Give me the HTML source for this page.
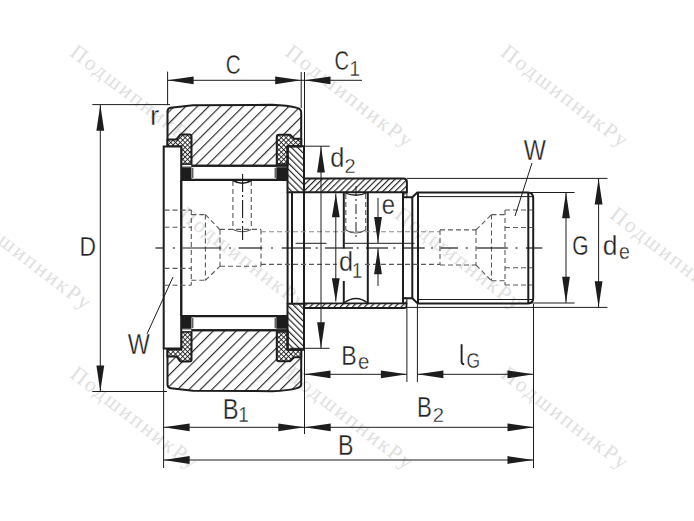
<!DOCTYPE html>
<html><head><meta charset="utf-8"><style>
html,body{margin:0;padding:0;background:#fff;width:694px;height:521px;overflow:hidden}
svg{display:block}
</style></head><body>
<svg width="694" height="521" viewBox="0 0 694 521">
<rect width="694" height="521" fill="#fff"/>
<defs>
<pattern id="h1" patternUnits="userSpaceOnUse" width="8.1" height="8.1" patternTransform="translate(5,0) rotate(45)"><line x1="0.6" y1="-1" x2="0.6" y2="9.1" stroke="#161616" stroke-width="1.05"/></pattern>
<pattern id="h2" patternUnits="userSpaceOnUse" width="4.4" height="4.4" patternTransform="rotate(-45)"><line x1="0.6" y1="-1" x2="0.6" y2="5.4" stroke="#161616" stroke-width="1.1"/></pattern>
<pattern id="h3" patternUnits="userSpaceOnUse" width="4.3" height="4.3" patternTransform="translate(1.8,0) rotate(45)"><line x1="0.6" y1="-1" x2="0.6" y2="5.3" stroke="#161616" stroke-width="1.1"/></pattern>
<pattern id="xh" patternUnits="userSpaceOnUse" width="3.4" height="3.4" patternTransform="rotate(45)"><rect width="3.4" height="3.4" fill="#fff"/><line x1="0.5" y1="-1" x2="0.5" y2="4.4" stroke="#161616" stroke-width="0.85"/><line x1="-1" y1="0.5" x2="4.4" y2="0.5" stroke="#161616" stroke-width="0.85"/></pattern>
</defs>
<text x="68.8" y="54.8" transform="rotate(37.5 68.8 54.8)" font-family="Liberation Serif" font-size="21.5" letter-spacing="2.1" fill="#e0e0e0">ПодшипникРу</text>
<text x="284.1" y="54.8" transform="rotate(37.5 284.1 54.8)" font-family="Liberation Serif" font-size="21.5" letter-spacing="2.1" fill="#e0e0e0">ПодшипникРу</text>
<text x="499.5" y="54.8" transform="rotate(37.5 499.5 54.8)" font-family="Liberation Serif" font-size="21.5" letter-spacing="2.1" fill="#e0e0e0">ПодшипникРу</text>
<text x="-37.3" y="217.0" transform="rotate(37.5 -37.3 217.0)" font-family="Liberation Serif" font-size="21.5" letter-spacing="2.1" fill="#e0e0e0">ПодшипникРу</text>
<text x="178.0" y="217.0" transform="rotate(37.5 178.0 217.0)" font-family="Liberation Serif" font-size="21.5" letter-spacing="2.1" fill="#e0e0e0">ПодшипникРу</text>
<text x="393.4" y="217.0" transform="rotate(37.5 393.4 217.0)" font-family="Liberation Serif" font-size="21.5" letter-spacing="2.1" fill="#e0e0e0">ПодшипникРу</text>
<text x="608.7" y="217.0" transform="rotate(37.5 608.7 217.0)" font-family="Liberation Serif" font-size="21.5" letter-spacing="2.1" fill="#e0e0e0">ПодшипникРу</text>
<text x="69.0" y="376.6" transform="rotate(37.5 69.0 376.6)" font-family="Liberation Serif" font-size="21.5" letter-spacing="2.1" fill="#e0e0e0">ПодшипникРу</text>
<text x="284.4" y="376.6" transform="rotate(37.5 284.4 376.6)" font-family="Liberation Serif" font-size="21.5" letter-spacing="2.1" fill="#e0e0e0">ПодшипникРу</text>
<text x="499.7" y="376.6" transform="rotate(37.5 499.7 376.6)" font-family="Liberation Serif" font-size="21.5" letter-spacing="2.1" fill="#e0e0e0">ПодшипникРу</text>
<path d="M167.5,146.5 L167.5,111.5 Q167.5,108.2 170.8,107.8 L193,105.2 L272,104.8 Q288,105.3 297.2,107.9 Q301.2,108.8 301.2,112.5 L301.2,146.3 L287.5,146.3 L287.5,165.8 L181.3,165.8 L181.3,146.5 Z" fill="url(#h1)" stroke="#1d1d1d" stroke-width="2" stroke-linejoin="round" />
<path d="M167.5,139.6 L176.5,139.6 L180.3,134.6 L189.3,134.6 Q191.5,134.6 191.5,136.8 L191.5,164.2 L181.3,164.2 L181.3,146.5 L167.5,146.5 Z" fill="url(#xh)" stroke="#1d1d1d" stroke-width="2" stroke-linejoin="round" />
<path d="M276.8,164.2 L276.8,136.9 Q276.8,134.7 279,134.7 L290,134.7 L294.3,138.7 L301.2,138.7 L301.2,146.3 L287.5,146.3 L287.5,164.2 Z" fill="url(#xh)" stroke="#1d1d1d" stroke-width="2" stroke-linejoin="round" />
<rect x="181.3" y="164.9" width="10.2" height="1.6" fill="#fff"/>
<rect x="276.8" y="164.9" width="10.7" height="1.6" fill="#fff"/>
<rect x="180.5" y="167.2" width="11" height="11.8" fill="#1d1d1d"/>
<rect x="276.3" y="167.2" width="11.7" height="11.8" fill="#1d1d1d"/>
<line x1="191.5" y1="165.8" x2="287.5" y2="165.8" stroke="#1d1d1d" stroke-width="2" />
<line x1="181.3" y1="179.8" x2="287.5" y2="179.8" stroke="#1d1d1d" stroke-width="2" />
<line x1="192.8" y1="167.8" x2="192.8" y2="178" stroke="#1d1d1d" stroke-width="1" />
<line x1="275.2" y1="167.8" x2="275.2" y2="178" stroke="#1d1d1d" stroke-width="1" />
<path d="M287.5,146.3 L304,146.3 L304,192.3 L287.5,192.3 Z" fill="url(#h2)" stroke="#1d1d1d" stroke-width="2" stroke-linejoin="round" />
<path d="M167.5,349.5 L167.5,384.5 Q167.5,387.8 170.8,388.2 L193,390.8 L272,391.2 Q288,390.7 297.2,388.1 Q301.2,387.2 301.2,383.5 L301.2,349.7 L287.5,349.7 L287.5,330.2 L181.3,330.2 L181.3,349.5 Z" fill="url(#h1)" stroke="#1d1d1d" stroke-width="2" stroke-linejoin="round" />
<path d="M167.5,356.4 L176.5,356.4 L180.3,361.4 L189.3,361.4 Q191.5,361.4 191.5,359.2 L191.5,331.8 L181.3,331.8 L181.3,349.5 L167.5,349.5 Z" fill="url(#xh)" stroke="#1d1d1d" stroke-width="2" stroke-linejoin="round" />
<path d="M276.8,331.8 L276.8,359.1 Q276.8,361.3 279,361.3 L290,361.3 L294.3,357.3 L301.2,357.3 L301.2,349.7 L287.5,349.7 L287.5,331.8 Z" fill="url(#xh)" stroke="#1d1d1d" stroke-width="2" stroke-linejoin="round" />
<rect x="181.3" y="329.5" width="10.2" height="1.6" fill="#fff"/>
<rect x="276.8" y="329.5" width="10.7" height="1.6" fill="#fff"/>
<rect x="180.5" y="317.0" width="11" height="11.8" fill="#1d1d1d"/>
<rect x="276.3" y="317.0" width="11.7" height="11.8" fill="#1d1d1d"/>
<line x1="191.5" y1="330.2" x2="287.5" y2="330.2" stroke="#1d1d1d" stroke-width="2" />
<line x1="181.3" y1="316.2" x2="287.5" y2="316.2" stroke="#1d1d1d" stroke-width="2" />
<line x1="192.8" y1="328.2" x2="192.8" y2="318.0" stroke="#1d1d1d" stroke-width="1" />
<line x1="275.2" y1="328.2" x2="275.2" y2="318.0" stroke="#1d1d1d" stroke-width="1" />
<path d="M287.5,349.7 L304,349.7 L304,303.7 L287.5,303.7 Z" fill="url(#h2)" stroke="#1d1d1d" stroke-width="2" stroke-linejoin="round" />
<rect x="163.7" y="146.5" width="17.5" height="202" fill="#fff" stroke="#1d1d1d" stroke-width="2"/>
<line x1="181.3" y1="180" x2="181.3" y2="316" stroke="#1d1d1d" stroke-width="2" />
<line x1="181.3" y1="180" x2="287.5" y2="180" stroke="#1d1d1d" stroke-width="2" />
<line x1="181.3" y1="316" x2="287.5" y2="316" stroke="#1d1d1d" stroke-width="2" />
<line x1="287.6" y1="192" x2="287.6" y2="304" stroke="#1d1d1d" stroke-width="2" />
<line x1="292" y1="192" x2="292" y2="304" stroke="#1d1d1d" stroke-width="2" />
<line x1="304" y1="192" x2="304" y2="304" stroke="#1d1d1d" stroke-width="2" />
<line x1="304" y1="146" x2="304" y2="350" stroke="#1d1d1d" stroke-width="2" />
<path d="M304,178.5 L403.5,178.5 Q406.9,178.5 406.9,182 L406.9,192.3 L304,192.3 Z" fill="url(#h3)" stroke="#1d1d1d" stroke-width="2" stroke-linejoin="round" />
<path d="M304,303.4 L406.5,303.4 L406.5,306 Q406.5,308 404,308 L304,308 Z" fill="url(#h3)" stroke="#1d1d1d" stroke-width="1.8" stroke-linejoin="round" />
<rect x="403.5" y="192.3" width="3.4" height="5" fill="url(#h3)" stroke="#1d1d1d" stroke-width="1"/>
<rect x="403.5" y="298.2" width="3.4" height="5" fill="url(#h3)" stroke="#1d1d1d" stroke-width="1"/>
<line x1="403" y1="192.3" x2="403" y2="303.4" stroke="#1d1d1d" stroke-width="2" />
<line x1="343.8" y1="192.3" x2="343.8" y2="248.5" stroke="#1d1d1d" stroke-width="2" />
<line x1="343.8" y1="281" x2="343.8" y2="303.4" stroke="#1d1d1d" stroke-width="2" />
<line x1="367.8" y1="192.3" x2="367.8" y2="303.4" stroke="#1d1d1d" stroke-width="2" />
<path d="M344,192.5 Q356,198 367.6,192.5" fill="none" stroke="#1d1d1d" stroke-width="1.3" stroke-linejoin="round" />
<path d="M344,303 Q356,294 367.6,303" fill="none" stroke="#1d1d1d" stroke-width="1.3" stroke-linejoin="round" />
<path d="M403,197.3 L412.3,197.3 L417.3,192.5 L528,192.5 Q533.2,192.8 533.2,198 L533.2,298 Q533.2,303.2 528,303.4 L417.6,303.4 L412.3,298.2 L403,298.2" fill="none" stroke="#1d1d1d" stroke-width="2" stroke-linejoin="round" />
<line x1="412.3" y1="197.3" x2="412.3" y2="298.2" stroke="#1d1d1d" stroke-width="2" />
<line x1="418" y1="192.3" x2="418" y2="303.4" stroke="#1d1d1d" stroke-width="2" />
<line x1="418" y1="196.6" x2="533" y2="196.6" stroke="#1d1d1d" stroke-width="1" />
<line x1="418" y1="299.5" x2="533" y2="299.5" stroke="#1d1d1d" stroke-width="1" />
<line x1="528.3" y1="192.5" x2="528.3" y2="303.4" stroke="#1d1d1d" stroke-width="2" />
<line x1="164.5" y1="210.1" x2="191.3" y2="210.1" stroke="#5a5a5a" stroke-width="1.1" stroke-dasharray="5,3"/>
<line x1="164.5" y1="227.2" x2="191.3" y2="227.2" stroke="#5a5a5a" stroke-width="1.1" stroke-dasharray="5,3"/>
<line x1="164.5" y1="268.4" x2="191.3" y2="268.4" stroke="#5a5a5a" stroke-width="1.1" stroke-dasharray="5,3"/>
<line x1="164.5" y1="285.3" x2="191.3" y2="285.3" stroke="#5a5a5a" stroke-width="1.1" stroke-dasharray="5,3"/>
<line x1="191.3" y1="210.1" x2="191.3" y2="285.3" stroke="#5a5a5a" stroke-width="1.1" stroke-dasharray="5,3"/>
<line x1="205.4" y1="214.6" x2="205.4" y2="280.3" stroke="#5a5a5a" stroke-width="1.1" stroke-dasharray="5,3"/>
<line x1="191.3" y1="214.6" x2="205.4" y2="214.6" stroke="#5a5a5a" stroke-width="1.1" stroke-dasharray="5,3"/>
<line x1="191.3" y1="280.3" x2="205.4" y2="280.3" stroke="#5a5a5a" stroke-width="1.1" stroke-dasharray="5,3"/>
<line x1="205.4" y1="214.6" x2="220" y2="229.8" stroke="#5a5a5a" stroke-width="1.1" stroke-dasharray="5,3"/>
<line x1="205.4" y1="280.3" x2="220" y2="266.2" stroke="#5a5a5a" stroke-width="1.1" stroke-dasharray="5,3"/>
<line x1="220" y1="229.8" x2="220" y2="266.2" stroke="#5a5a5a" stroke-width="1.1" stroke-dasharray="5,3"/>
<line x1="220" y1="229.4" x2="261" y2="229.4" stroke="#5a5a5a" stroke-width="1.1" stroke-dasharray="5,3"/>
<line x1="220" y1="266.2" x2="261" y2="266.2" stroke="#5a5a5a" stroke-width="1.1" stroke-dasharray="5,3"/>
<line x1="261" y1="229.4" x2="261" y2="266.2" stroke="#5a5a5a" stroke-width="1.1" stroke-dasharray="5,3"/>
<line x1="232.9" y1="181" x2="232.9" y2="229.1" stroke="#5a5a5a" stroke-width="1.1" stroke-dasharray="5,3"/>
<line x1="251.3" y1="181" x2="251.3" y2="229.1" stroke="#5a5a5a" stroke-width="1.1" stroke-dasharray="5,3"/>
<path d="M233,180.5 Q242.6,186 251.3,180.5" fill="none" stroke="#1d1d1d" stroke-width="1.6" stroke-linejoin="round" />
<path d="M233,229.5 Q242.6,234 251.3,229.5" fill="none" stroke="#5a5a5a" stroke-width="1.1" stroke-linejoin="round" />
<line x1="242.6" y1="174" x2="242.6" y2="240" stroke="#1d1d1d" stroke-width="1.1" stroke-dasharray="18,3,2,3"/>
<line x1="261" y1="231.8" x2="440" y2="231.8" stroke="#8a8a8a" stroke-width="1.1" stroke-dasharray="5,3"/>
<line x1="261" y1="264.4" x2="440" y2="264.4" stroke="#5a5a5a" stroke-width="1.1" stroke-dasharray="5,3"/>
<line x1="345.8" y1="194" x2="345.8" y2="230" stroke="#5a5a5a" stroke-width="1.1" stroke-dasharray="5,3"/>
<line x1="365.7" y1="194" x2="365.7" y2="230" stroke="#5a5a5a" stroke-width="1.1" stroke-dasharray="5,3"/>
<path d="M345.8,230 Q355.8,236 365.7,230" fill="none" stroke="#5a5a5a" stroke-width="1.1" stroke-linejoin="round" />
<line x1="356" y1="186" x2="356" y2="240" stroke="#1d1d1d" stroke-width="1.0" stroke-dasharray="10,3,2,3"/>
<line x1="440" y1="229.9" x2="440" y2="265" stroke="#5a5a5a" stroke-width="1.1" stroke-dasharray="5,3"/>
<line x1="440" y1="229.9" x2="476" y2="229.9" stroke="#5a5a5a" stroke-width="1.1" stroke-dasharray="5,3"/>
<line x1="440" y1="265" x2="476" y2="265" stroke="#5a5a5a" stroke-width="1.1" stroke-dasharray="5,3"/>
<line x1="476" y1="229.9" x2="476" y2="265" stroke="#5a5a5a" stroke-width="1.1" stroke-dasharray="5,3"/>
<line x1="476" y1="229.9" x2="491.5" y2="214.6" stroke="#5a5a5a" stroke-width="1.1" stroke-dasharray="5,3"/>
<line x1="476" y1="265" x2="491.5" y2="280.8" stroke="#5a5a5a" stroke-width="1.1" stroke-dasharray="5,3"/>
<line x1="491.5" y1="214.6" x2="491.5" y2="280.8" stroke="#5a5a5a" stroke-width="1.1" stroke-dasharray="5,3"/>
<line x1="491.5" y1="214.6" x2="505" y2="214.6" stroke="#5a5a5a" stroke-width="1.1" stroke-dasharray="5,3"/>
<line x1="491.5" y1="280.8" x2="505" y2="280.8" stroke="#5a5a5a" stroke-width="1.1" stroke-dasharray="5,3"/>
<line x1="505" y1="210" x2="505" y2="285" stroke="#5a5a5a" stroke-width="1.1" stroke-dasharray="5,3"/>
<line x1="505" y1="210" x2="532" y2="210" stroke="#5a5a5a" stroke-width="1.1" stroke-dasharray="5,3"/>
<line x1="505" y1="285" x2="532" y2="285" stroke="#5a5a5a" stroke-width="1.1" stroke-dasharray="5,3"/>
<line x1="505" y1="227.5" x2="532" y2="227.5" stroke="#5a5a5a" stroke-width="1.1" stroke-dasharray="5,3"/>
<line x1="505" y1="267.8" x2="532" y2="267.8" stroke="#5a5a5a" stroke-width="1.1" stroke-dasharray="5,3"/>
<line x1="155.4" y1="248" x2="163" y2="248" stroke="#1d1d1d" stroke-width="1.2" />
<line x1="182.4" y1="248" x2="221.3" y2="248" stroke="#1d1d1d" stroke-width="1.2" />
<line x1="238.6" y1="248" x2="262.4" y2="248" stroke="#1d1d1d" stroke-width="1.2" />
<line x1="281.8" y1="248" x2="311" y2="248" stroke="#1d1d1d" stroke-width="1.2" />
<line x1="325" y1="248" x2="353" y2="248" stroke="#1d1d1d" stroke-width="1.2" />
<line x1="366" y1="248" x2="388" y2="248" stroke="#1d1d1d" stroke-width="1.2" />
<line x1="403" y1="248" x2="424.7" y2="248" stroke="#1d1d1d" stroke-width="1.2" />
<line x1="440.8" y1="248" x2="458" y2="248" stroke="#1d1d1d" stroke-width="1.2" />
<line x1="476.5" y1="248" x2="507.8" y2="248" stroke="#1d1d1d" stroke-width="1.2" />
<line x1="526" y1="248" x2="542.4" y2="248" stroke="#1d1d1d" stroke-width="1.2" />
<line x1="172.8" y1="248" x2="174.8" y2="248" stroke="#1d1d1d" stroke-width="1.2" />
<line x1="229" y1="248" x2="231" y2="248" stroke="#1d1d1d" stroke-width="1.2" />
<line x1="271" y1="248" x2="273" y2="248" stroke="#1d1d1d" stroke-width="1.2" />
<line x1="315.6" y1="248" x2="317.6" y2="248" stroke="#1d1d1d" stroke-width="1.2" />
<line x1="356.7" y1="248" x2="358.7" y2="248" stroke="#1d1d1d" stroke-width="1.2" />
<line x1="393.4" y1="248" x2="395.4" y2="248" stroke="#1d1d1d" stroke-width="1.2" />
<line x1="431" y1="248" x2="433" y2="248" stroke="#1d1d1d" stroke-width="1.2" />
<line x1="465.7" y1="248" x2="467.7" y2="248" stroke="#1d1d1d" stroke-width="1.2" />
<line x1="515.4" y1="248" x2="517.4" y2="248" stroke="#1d1d1d" stroke-width="1.2" />
<rect x="336.8" y="250" width="27.6" height="29" fill="#fff"/>
<line x1="167.6" y1="71.6" x2="167.6" y2="105" stroke="#1d1d1d" stroke-width="1.0" />
<line x1="301.2" y1="72" x2="301.2" y2="108" stroke="#1d1d1d" stroke-width="1.0" />
<line x1="304.5" y1="72" x2="304.5" y2="146" stroke="#1d1d1d" stroke-width="1.0" />
<line x1="167.6" y1="80.3" x2="362" y2="80.3" stroke="#1d1d1d" stroke-width="1.0" />
<polygon points="167.6,80.3 193.6,76.39999999999999 193.6,84.2" fill="#1d1d1d"/>
<polygon points="301.2,80.3 275.2,76.39999999999999 275.2,84.2" fill="#1d1d1d"/>
<polygon points="304.5,80.3 330.5,76.39999999999999 330.5,84.2" fill="#1d1d1d"/>
<line x1="92.3" y1="104.6" x2="170" y2="104.6" stroke="#1d1d1d" stroke-width="1.0" />
<line x1="92.3" y1="391.5" x2="167" y2="391.5" stroke="#1d1d1d" stroke-width="1.0" />
<line x1="100.3" y1="105" x2="100.3" y2="391.5" stroke="#1d1d1d" stroke-width="1.0" />
<polygon points="100.3,104.8 96.39999999999999,130.8 104.2,130.8" fill="#1d1d1d"/>
<polygon points="100.3,391.4 96.39999999999999,365.4 104.2,365.4" fill="#1d1d1d"/>
<line x1="304" y1="146.2" x2="329.7" y2="146.2" stroke="#1d1d1d" stroke-width="1.0" />
<line x1="290" y1="348.3" x2="329.5" y2="348.3" stroke="#1d1d1d" stroke-width="1.0" />
<line x1="321" y1="146.2" x2="321" y2="348.3" stroke="#1d1d1d" stroke-width="1.0" />
<polygon points="321,146.4 317.1,172.4 324.9,172.4" fill="#1d1d1d"/>
<polygon points="321,348.2 317.1,322.2 324.9,322.2" fill="#1d1d1d"/>
<line x1="335.8" y1="193.5" x2="335.8" y2="301.5" stroke="#1d1d1d" stroke-width="1.0" />
<polygon points="335.8,193.8 331.90000000000003,217.3 339.7,217.3" fill="#1d1d1d"/>
<polygon points="335.8,301.8 331.90000000000003,278.3 339.7,278.3" fill="#1d1d1d"/>
<line x1="295.6" y1="243.3" x2="326.5" y2="243.3" stroke="#1d1d1d" stroke-width="1.0" />
<line x1="344.3" y1="243.3" x2="414.5" y2="243.3" stroke="#1d1d1d" stroke-width="1.0" />
<line x1="378" y1="198" x2="378" y2="243" stroke="#1d1d1d" stroke-width="1.0" />
<polygon points="378,243 374.1,217 381.9,217" fill="#1d1d1d"/>
<line x1="378" y1="248.3" x2="378" y2="286" stroke="#1d1d1d" stroke-width="1.0" />
<polygon points="378,248.3 374.1,274.3 381.9,274.3" fill="#1d1d1d"/>
<line x1="528" y1="192.5" x2="574.6" y2="192.5" stroke="#1d1d1d" stroke-width="1.0" />
<line x1="528" y1="303" x2="574.6" y2="303" stroke="#1d1d1d" stroke-width="1.0" />
<line x1="566" y1="192.2" x2="566" y2="302.8" stroke="#1d1d1d" stroke-width="1.0" />
<polygon points="566,192.3 562.1,218.3 569.9,218.3" fill="#1d1d1d"/>
<polygon points="566,302.7 562.1,276.7 569.9,276.7" fill="#1d1d1d"/>
<line x1="406.9" y1="178.4" x2="607.5" y2="178.4" stroke="#1d1d1d" stroke-width="1.0" />
<line x1="406.9" y1="307.4" x2="607.5" y2="307.4" stroke="#1d1d1d" stroke-width="1.0" />
<line x1="598.6" y1="178.4" x2="598.6" y2="307.4" stroke="#1d1d1d" stroke-width="1.0" />
<polygon points="598.6,178.5 594.7,204.5 602.5,204.5" fill="#1d1d1d"/>
<polygon points="598.6,307.3 594.7,281.3 602.5,281.3" fill="#1d1d1d"/>
<line x1="163.6" y1="349" x2="163.6" y2="468" stroke="#1d1d1d" stroke-width="1.0" />
<line x1="304.5" y1="349" x2="304.5" y2="434" stroke="#1d1d1d" stroke-width="1.0" />
<line x1="406.9" y1="308" x2="406.9" y2="382" stroke="#1d1d1d" stroke-width="1.0" />
<line x1="417.4" y1="304" x2="417.4" y2="382" stroke="#1d1d1d" stroke-width="1.0" />
<line x1="533.5" y1="304" x2="533.5" y2="468" stroke="#1d1d1d" stroke-width="1.0" />
<line x1="304.5" y1="374.3" x2="406.9" y2="374.3" stroke="#1d1d1d" stroke-width="1.0" />
<polygon points="304.5,374.3 330.5,370.40000000000003 330.5,378.2" fill="#1d1d1d"/>
<polygon points="406.9,374.3 380.9,370.40000000000003 380.9,378.2" fill="#1d1d1d"/>
<line x1="417.4" y1="374.3" x2="533.5" y2="374.3" stroke="#1d1d1d" stroke-width="1.0" />
<polygon points="417.4,374.3 443.4,370.40000000000003 443.4,378.2" fill="#1d1d1d"/>
<polygon points="533.5,374.3 507.5,370.40000000000003 507.5,378.2" fill="#1d1d1d"/>
<line x1="163.6" y1="427.3" x2="533.5" y2="427.3" stroke="#1d1d1d" stroke-width="1.0" />
<polygon points="163.6,427.3 189.6,423.40000000000003 189.6,431.2" fill="#1d1d1d"/>
<polygon points="304.3,427.3 278.3,423.40000000000003 278.3,431.2" fill="#1d1d1d"/>
<polygon points="304.7,427.3 330.7,423.40000000000003 330.7,431.2" fill="#1d1d1d"/>
<polygon points="533.5,427.3 507.5,423.40000000000003 507.5,431.2" fill="#1d1d1d"/>
<line x1="163.6" y1="460" x2="533.5" y2="460" stroke="#1d1d1d" stroke-width="1.0" />
<polygon points="163.6,460 189.6,456.1 189.6,463.9" fill="#1d1d1d"/>
<polygon points="533.5,460 507.5,456.1 507.5,463.9" fill="#1d1d1d"/>
<line x1="515" y1="216" x2="532" y2="163" stroke="#1d1d1d" stroke-width="1" />
<line x1="173" y1="277" x2="147" y2="334" stroke="#1d1d1d" stroke-width="1" />
<text transform="matrix(0.1032 0 0 0.1380 225.77 74.22)" font-family="Liberation Sans" font-size="200" fill="#222" stroke="#fff" stroke-width="2.32">C</text>
<text transform="matrix(0.1008 0 0 0.1373 334.49 70.43)" font-family="Liberation Sans" font-size="200" fill="#222" stroke="#fff" stroke-width="2.33">C</text>
<text transform="matrix(0.0942 0 0 0.1058 349.59 75.60)" font-family="Liberation Sans" font-size="200" fill="#222" stroke="#fff" stroke-width="3.02">1</text>
<text transform="matrix(0.1380 0 0 0.1361 150.11 124.70)" font-family="Liberation Sans" font-size="200" fill="#222" stroke="#fff" stroke-width="2.35">r</text>
<text transform="matrix(0.1267 0 0 0.1381 330.19 167.22)" font-family="Liberation Sans" font-size="200" fill="#222" stroke="#fff" stroke-width="2.32">d</text>
<text transform="matrix(0.1000 0 0 0.1050 344.60 172.70)" font-family="Liberation Sans" font-size="200" fill="#222" stroke="#fff" stroke-width="3.05">2</text>
<text transform="matrix(0.1194 0 0 0.1345 381.83 214.33)" font-family="Liberation Sans" font-size="200" fill="#222" stroke="#fff" stroke-width="2.38">e</text>
<text transform="matrix(0.1267 0 0 0.1401 338.89 270.52)" font-family="Liberation Sans" font-size="200" fill="#222" stroke="#fff" stroke-width="2.28">d</text>
<text transform="matrix(0.0907 0 0 0.1058 351.94 277.60)" font-family="Liberation Sans" font-size="200" fill="#222" stroke="#fff" stroke-width="3.02">1</text>
<text transform="matrix(0.1171 0 0 0.1435 523.68 159.60)" font-family="Liberation Sans" font-size="200" fill="#222" stroke="#fff" stroke-width="2.23">W</text>
<text transform="matrix(0.1166 0 0 0.1442 127.78 353.70)" font-family="Liberation Sans" font-size="200" fill="#222" stroke="#fff" stroke-width="2.22">W</text>
<text transform="matrix(0.1143 0 0 0.1420 79.47 255.60)" font-family="Liberation Sans" font-size="200" fill="#222" stroke="#fff" stroke-width="2.25">D</text>
<text transform="matrix(0.1053 0 0 0.1380 572.15 255.22)" font-family="Liberation Sans" font-size="200" fill="#222" stroke="#fff" stroke-width="2.32">G</text>
<text transform="matrix(0.1322 0 0 0.1395 602.64 255.42)" font-family="Liberation Sans" font-size="200" fill="#222" stroke="#fff" stroke-width="2.29">d</text>
<text transform="matrix(0.0978 0 0 0.1064 618.92 259.09)" font-family="Liberation Sans" font-size="200" fill="#222" stroke="#fff" stroke-width="3.01">e</text>
<text transform="matrix(0.1159 0 0 0.1391 341.35 365.40)" font-family="Liberation Sans" font-size="200" fill="#222" stroke="#fff" stroke-width="2.30">B</text>
<text transform="matrix(0.1022 0 0 0.1064 357.88 369.49)" font-family="Liberation Sans" font-size="200" fill="#222" stroke="#fff" stroke-width="3.01">e</text>
<path d="M461.6,344.2 L461.6,361.8 Q461.6,364.3 464.2,364.3" fill="none" stroke="#222" stroke-width="1.9" stroke-linejoin="round" stroke-linecap="butt"/>
<text transform="matrix(0.0870 0 0 0.1127 466.53 368.47)" font-family="Liberation Sans" font-size="200" fill="#222" stroke="#fff" stroke-width="2.84">G</text>
<text transform="matrix(0.1187 0 0 0.1442 222.70 418.90)" font-family="Liberation Sans" font-size="200" fill="#222" stroke="#fff" stroke-width="2.22">B</text>
<text transform="matrix(0.0942 0 0 0.1087 238.19 421.80)" font-family="Liberation Sans" font-size="200" fill="#222" stroke="#fff" stroke-width="2.94">1</text>
<text transform="matrix(0.1112 0 0 0.1471 417.02 416.90)" font-family="Liberation Sans" font-size="200" fill="#222" stroke="#fff" stroke-width="2.18">B</text>
<text transform="matrix(0.1011 0 0 0.1050 432.79 422.10)" font-family="Liberation Sans" font-size="200" fill="#222" stroke="#fff" stroke-width="3.05">2</text>
<text transform="matrix(0.1159 0 0 0.1442 337.95 454.80)" font-family="Liberation Sans" font-size="200" fill="#222" stroke="#fff" stroke-width="2.22">B</text>
</svg></body></html>
